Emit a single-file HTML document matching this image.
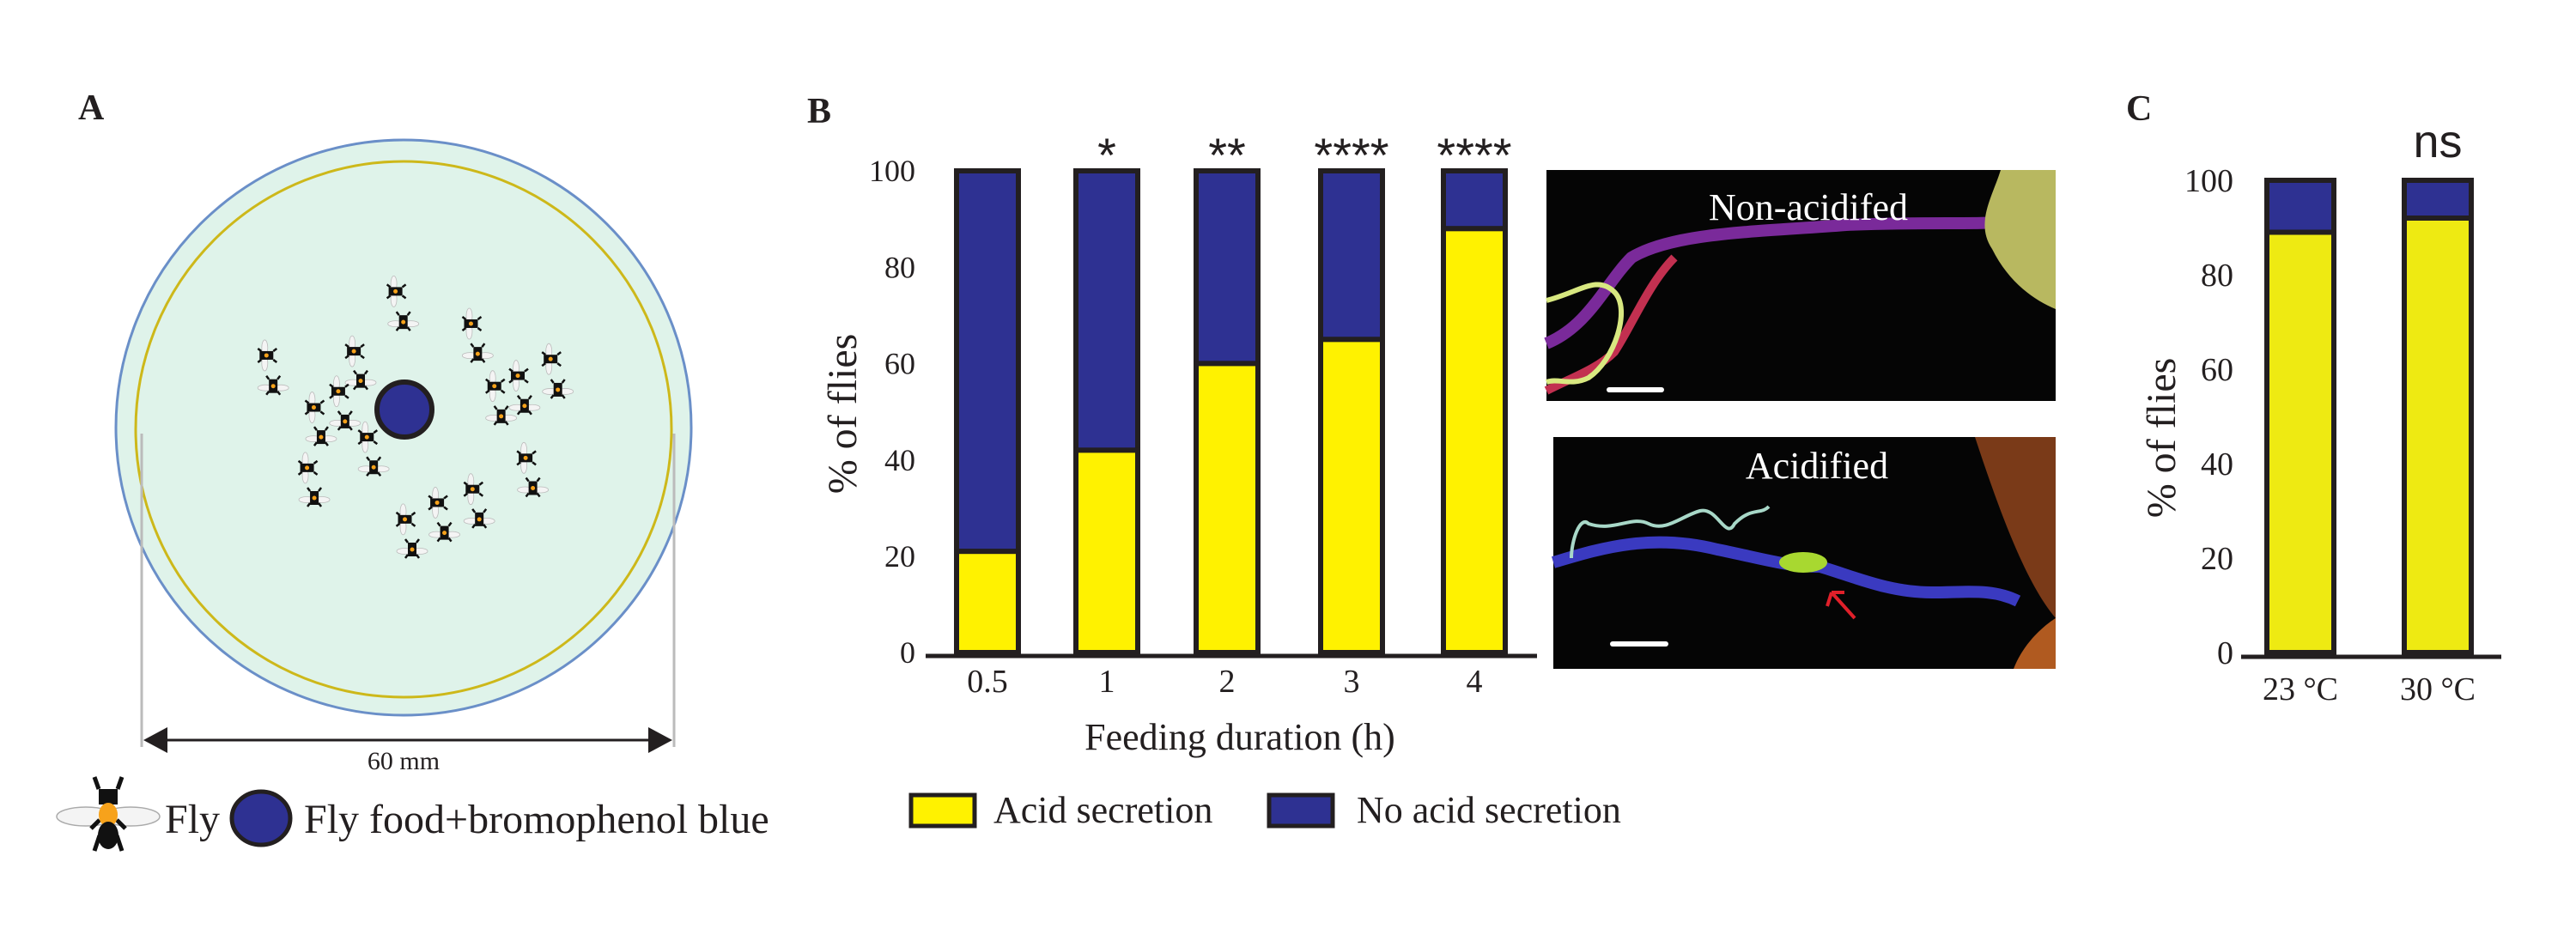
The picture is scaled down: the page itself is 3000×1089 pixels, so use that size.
<!DOCTYPE html>
<html><head><meta charset="utf-8"><style>
html,body{margin:0;padding:0;background:#fff}
svg{display:block}
text{font-family:"Liberation Serif",serif;fill:#231f20}
.sans{font-family:"Liberation Sans",sans-serif}
</style></head><body>
<svg id="fig" width="3000" height="1089" viewBox="0 0 3000 1089" xmlns="http://www.w3.org/2000/svg">
<!-- Panel A -->
<g id="panelA">
<text x="91" y="139" font-size="42" font-weight="bold">A</text>
<circle cx="470" cy="498" r="335" fill="#dff3ea" stroke="#6a8fc8" stroke-width="3"/>
<circle cx="470" cy="500" r="312" fill="none" stroke="#cdb81a" stroke-width="3"/>
<line x1="165" y1="505" x2="165" y2="870" stroke="#bbb" stroke-width="3"/>
<line x1="785" y1="505" x2="785" y2="870" stroke="#bbb" stroke-width="3"/>
<g id="flies"></g>
<circle cx="471" cy="477" r="32" fill="#2e3192" stroke="#231f20" stroke-width="6"/>
<g>
<line x1="190" y1="862" x2="760" y2="862" stroke="#231f20" stroke-width="3"/>
<polygon points="167,862 195,847 195,877" fill="#231f20"/>
<polygon points="783,862 755,847 755,877" fill="#231f20"/>
</g>
<text x="470" y="896" font-size="30" text-anchor="middle">60 mm</text>
<g transform="translate(126,955)">
<ellipse cx="-26" cy="-4" rx="34" ry="11" fill="#f4f4f4" stroke="#aaa" stroke-width="1.5"/>
<ellipse cx="26" cy="-4" rx="34" ry="11" fill="#f4f4f4" stroke="#aaa" stroke-width="1.5"/>
<rect x="-11" y="-36" width="22" height="18" fill="#111"/>
<path d="M-11,-36 L-16,-50 M11,-36 L16,-50 M-10,18 L-16,36 M10,18 L16,36 M-10,0 L-20,10 M10,0 L20,10" stroke="#111" stroke-width="5"/>
<ellipse cx="0" cy="-6" rx="11" ry="14" fill="#f7a21b"/>
<ellipse cx="0" cy="18" rx="12" ry="16" fill="#111"/>
</g>
<text x="192" y="970" font-size="48">Fly</text>
<ellipse cx="304" cy="953" rx="34" ry="31" fill="#2e3192" stroke="#231f20" stroke-width="5"/>
<text x="354" y="970" font-size="48">Fly food+bromophenol blue</text>
</g>

<!-- Panel B -->
<g id="panelB">
<text x="940" y="143" font-size="42" font-weight="bold">B</text>
<g id="axisB"></g>
<g id="barsB"></g>
<text transform="translate(997,482) rotate(-90)" font-size="48" text-anchor="middle">% of flies</text>
<text x="1444" y="873" font-size="44" text-anchor="middle">Feeding duration (h)</text>
<rect x="1061" y="926" width="74" height="36" fill="#fff200" stroke="#231f20" stroke-width="5"/>
<text x="1157" y="958" font-size="44">Acid secretion</text>
<rect x="1478" y="926" width="74" height="36" fill="#2e3192" stroke="#231f20" stroke-width="5"/>
<text x="1580" y="958" font-size="44">No acid secretion</text>
</g>

<!-- Photos -->
<g>
<rect x="1801" y="198" width="593" height="269" fill="#050505"/>
<path d="M1801,400 C1850,380 1870,330 1900,300 C1950,270 2050,270 2150,262 C2250,258 2300,262 2340,258" stroke="#7a2a9a" stroke-width="14" fill="none"/>
<path d="M1801,455 C1830,440 1860,430 1880,410 C1900,380 1920,330 1950,300" stroke="#c23050" stroke-width="10" fill="none"/>
<path d="M1801,350 C1840,340 1860,320 1880,340 C1900,360 1880,420 1850,440 C1830,450 1815,440 1801,445" stroke="#d8e880" stroke-width="6" fill="none"/>
<path d="M2330,198 L2394,198 L2394,360 C2370,350 2340,330 2320,290 C2300,260 2320,230 2330,198 Z" fill="#b8b860"/>
<text x="2106" y="256" font-size="44" text-anchor="middle" style="fill:#fff">Non-acidifed</text>
<rect x="1871" y="451" width="67" height="6" rx="3" fill="#fff"/>
</g>
<g>
<rect x="1809" y="509" width="585" height="270" fill="#050505"/>
<path d="M1809,655 C1860,640 1920,620 2000,640 C2050,650 2080,660 2120,660 C2160,672 2200,690 2250,690 C2290,690 2320,685 2350,700" stroke="#3a3ac0" stroke-width="14" fill="none"/>
<ellipse cx="2100" cy="655" rx="28" ry="12" fill="#a8d830"/>
<path d="M1830,650 C1830,630 1840,600 1850,610 C1880,620 1900,600 1920,610 C1940,620 1960,600 1980,595 C2000,590 2010,630 2020,610 C2040,590 2050,600 2060,590" stroke="#a8d8c8" stroke-width="4" fill="none"/>
<path d="M2300,509 L2394,509 L2394,720 C2360,680 2330,600 2300,509 Z" fill="#7a3a18"/>
<path d="M2345,779 C2360,740 2394,720 2394,720 L2394,779 Z" fill="#b05a20"/>
<path d="M2160,720 L2133,690 M2133,690 L2128,706 M2133,690 L2148,690" stroke="#e0202a" stroke-width="4" fill="none"/>
<text x="2116" y="557" font-size="44" text-anchor="middle" style="fill:#fff">Acidified</text>
<rect x="1875" y="747" width="68" height="6" rx="3" fill="#fff"/>
</g>

<!-- Panel C -->
<g id="panelC">
<text x="2476" y="140" font-size="42" font-weight="bold">C</text>
<g id="axisC"></g>
<g id="barsC"></g>
<text transform="translate(2533,510) rotate(-90)" font-size="48" text-anchor="middle">% of flies</text>
</g>
</svg>
<script>
// ---- Panel B data ----
const bCategories = ["0.5", "1", "2", "3", "4"];
const bAcid = [21, 42, 60, 65, 88];
const bSignif = ["", "*", "**", "****", "****"];
const bTicks = [0, 20, 40, 60, 80, 100];
// ---- Panel C data ----
const cCategories = ["23 °C", "30 °C"];
const cAcid = [89, 92];
const cSignif = ["", "ns"];
const cTicks = [0, 20, 40, 60, 80, 100];
// ---- Panel A fly positions (schematic illustration) ----
const flyX = [760,775,905,918,512,525,680,693,650,663,603,617,705,718,590,604,950,963,995,1008,1058,1072,1010,1024,908,921,840,854,778,792];
const flyY = [428,487,490,548,551,610,543,600,620,678,651,708,708,766,767,825,610,668,590,648,558,617,748,806,808,866,834,892,866,924];

const NS = "http://www.w3.org/2000/svg";
function mk(tag, attrs, parent) {
  const e = document.createElementNS(NS, tag);
  for (const k in attrs) e.setAttribute(k, attrs[k]);
  parent.appendChild(e);
  return e;
}

// flies
const fg = document.getElementById('flies');
flyX.forEach((fx, i) => {
  const x = fx / 1.65, y = flyY[i] / 1.65 + 80;
  const g = mk('g', {transform: `translate(${x},${y})${i % 2 ? '' : ' rotate(90)'}`}, fg);
  
  
  mk('ellipse', {cx: -9, cy: 2, rx: 9, ry: 3.5, fill: '#f4f4f4', stroke: '#bbb', 'stroke-width': 0.8}, g);
  mk('ellipse', {cx: 9, cy: 2, rx: 9, ry: 3.5, fill: '#f4f4f4', stroke: '#bbb', 'stroke-width': 0.8}, g);
  mk('rect', {x: -5, y: -8, width: 10, height: 16, fill: '#111'}, g);
  mk('path', {d: 'M-5,-8 L-8,-12 M5,-8 L8,-12 M-5,6 L-8,10 M5,6 L8,10', stroke: '#111', 'stroke-width': 2.5}, g);
  mk('circle', {cx: 0, cy: 0, r: 2.5, fill: '#f7a21b'}, g);
});

function drawChart(opts) {
  const {axisG, barsG, cats, acid, sig, ticks, y0, perUnit, centers, barW, axisX1, axisX2, axisY, tickX, tickSize, xLabY, xLabSize, sigY, sigSize, prefix} = opts;
  const yScale = v => y0 - v * perUnit;
  const ax = mk('line', {x1: axisX1, y1: axisY, x2: axisX2, y2: axisY, stroke: '#231f20', 'stroke-width': 5}, axisG);
  
  
  ticks.forEach(t => {
    const tx = mk('text', {x: tickX, y: yScale(t) + tickSize * 0.34, 'font-size': tickSize, 'text-anchor': 'end'}, axisG);
    tx.textContent = t;
    
    
  });
  cats.forEach((c, i) => {
    const cx = centers[i];
    const x = cx - barW / 2;
    const yTop = yScale(100), yMid = yScale(acid[i]), yBot = yScale(0);
    const top = mk('rect', {x: x, y: yTop, width: barW, height: yMid - yTop, fill: '#2e3192', stroke: '#231f20', 'stroke-width': 6}, barsG);
    
    
    const bot = mk('rect', {x: x, y: yMid, width: barW, height: yBot - yMid, fill: prefix === 'c' ? '#eeea12' : '#fff200', stroke: '#231f20', 'stroke-width': 6}, barsG);
    
    
    const xl = mk('text', {x: cx, y: xLabY, 'font-size': xLabSize, 'text-anchor': 'middle'}, axisG);
    xl.textContent = c;
    
    
    if (sig[i]) {
      const s = mk('text', {x: cx, y: sigY, 'font-size': sigSize, 'text-anchor': 'middle', class: 'sans'}, barsG);
      s.textContent = sig[i];
      
      
    }
  });
}

drawChart({
  axisG: document.getElementById('axisB'), barsG: document.getElementById('barsB'),
  cats: bCategories, acid: bAcid, sig: bSignif, ticks: bTicks,
  y0: 760, perUnit: 5.61, centers: [1150, 1289, 1429, 1574, 1717], barW: 72,
  axisX1: 1078, axisX2: 1790, axisY: 764, tickX: 1066, tickSize: 36,
  xLabY: 806, xLabSize: 38, sigY: 200, sigSize: 56, prefix: 'b'
});
drawChart({
  axisG: document.getElementById('axisC'), barsG: document.getElementById('barsC'),
  cats: cCategories, acid: cAcid, sig: cSignif, ticks: cTicks,
  y0: 760, perUnit: 5.5, centers: [2679, 2839], barW: 78,
  axisX1: 2610, axisX2: 2913, axisY: 765, tickX: 2601, tickSize: 38,
  xLabY: 815, xLabSize: 38, sigY: 183, sigSize: 54, prefix: 'c'
});
</script>
</body></html>
